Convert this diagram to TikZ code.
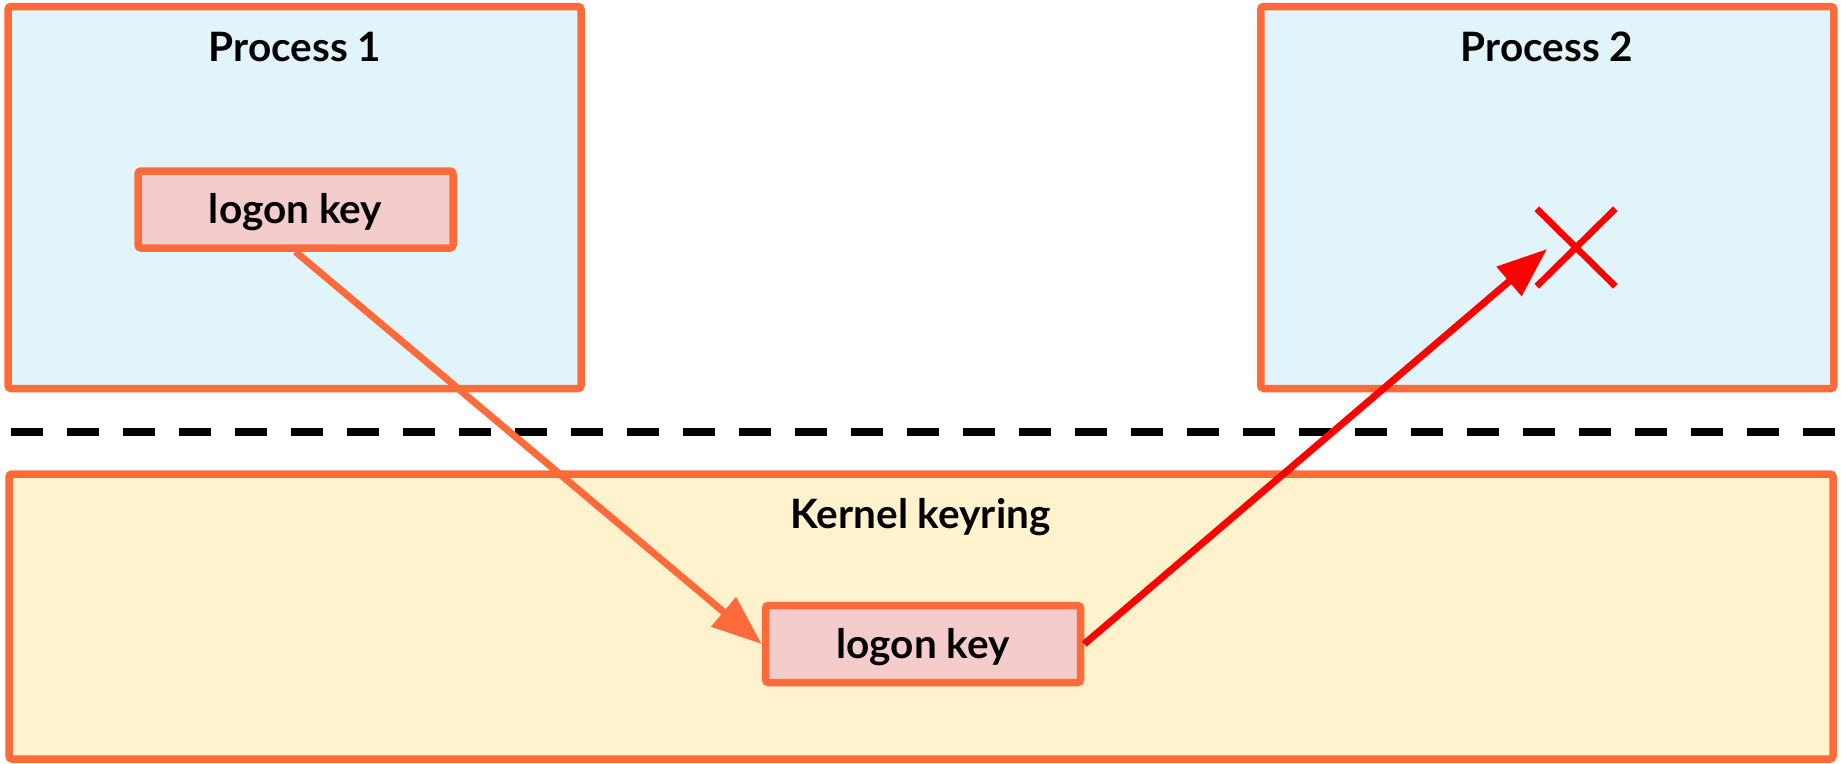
\documentclass[tikz,border=0pt]{standalone}
\usepackage{fontspec}
\setmainfont{Lato}
\usetikzlibrary{arrows.meta,shapes.misc}
\definecolor{edge}{HTML}{FF6A3A}
\definecolor{procfill}{HTML}{E0F4FA}
\definecolor{keyfill}{HTML}{F4CCCC}
\definecolor{kernfill}{HTML}{FFF2CC}
\definecolor{deny}{HTML}{FF0000}
\tikzset{
  area/.style={draw=edge, line width=7.5pt, rounded corners=3pt, inner sep=0pt},
  procbox/.style={area, fill=procfill, minimum width=573pt, minimum height=382pt},
  kernbox/.style={area, fill=kernfill, minimum width=1824pt, minimum height=285pt},
  keybox/.style={area, fill=keyfill, minimum width=315pt, minimum height=77pt,
    text height=28pt, text depth=0pt, font=\fontsize{40.5}{46}\selectfont\bfseries},
  title/.style={anchor=base, inner sep=0pt, font=\fontsize{40.5}{46}\selectfont\bfseries},
  flow/.style={line width=7pt, -{Triangle[length=50pt,width=37pt]}},
}
\begin{document}
\begin{tikzpicture}[x=1pt,y=-1pt]
\useasboundingbox (0,0) rectangle (1841,763);
\node[procbox] (p1) at (294.5,197.5) {};
\node[procbox] (p2) at (1547.25,197.5) {};
\node[kernbox] (kr) at (921,616.5) {};
\node[title] (p1t) at (295,61) {Process 1};
\node[title] (p2t) at (1547,61) {Process 2};
\node[title] (krt) at (920.5,528) {Kernel keyring};
\coordinate (dl) at (11,432);
\coordinate (dr) at (1835,432);
\draw[line width=8pt, dash pattern=on 32pt off 24pt] (dl) -- (dr);
\node[keybox] (k1) at (295.5,209.5) {logon key};
\node[keybox] (k2) at (923,644) {logon key};
\node[draw=deny, line width=6.5pt, cross out, minimum width=72pt, minimum height=71pt, inner sep=0pt] (xx) at (1576,247.5) {};
\coordinate (tip) at (1547,249);
\draw[flow, draw=edge, fill=edge] (k1.south) -- (k2.west);
\draw[flow, draw=deny, fill=deny] (k2.east) -- (tip);
\end{tikzpicture}
\end{document}
